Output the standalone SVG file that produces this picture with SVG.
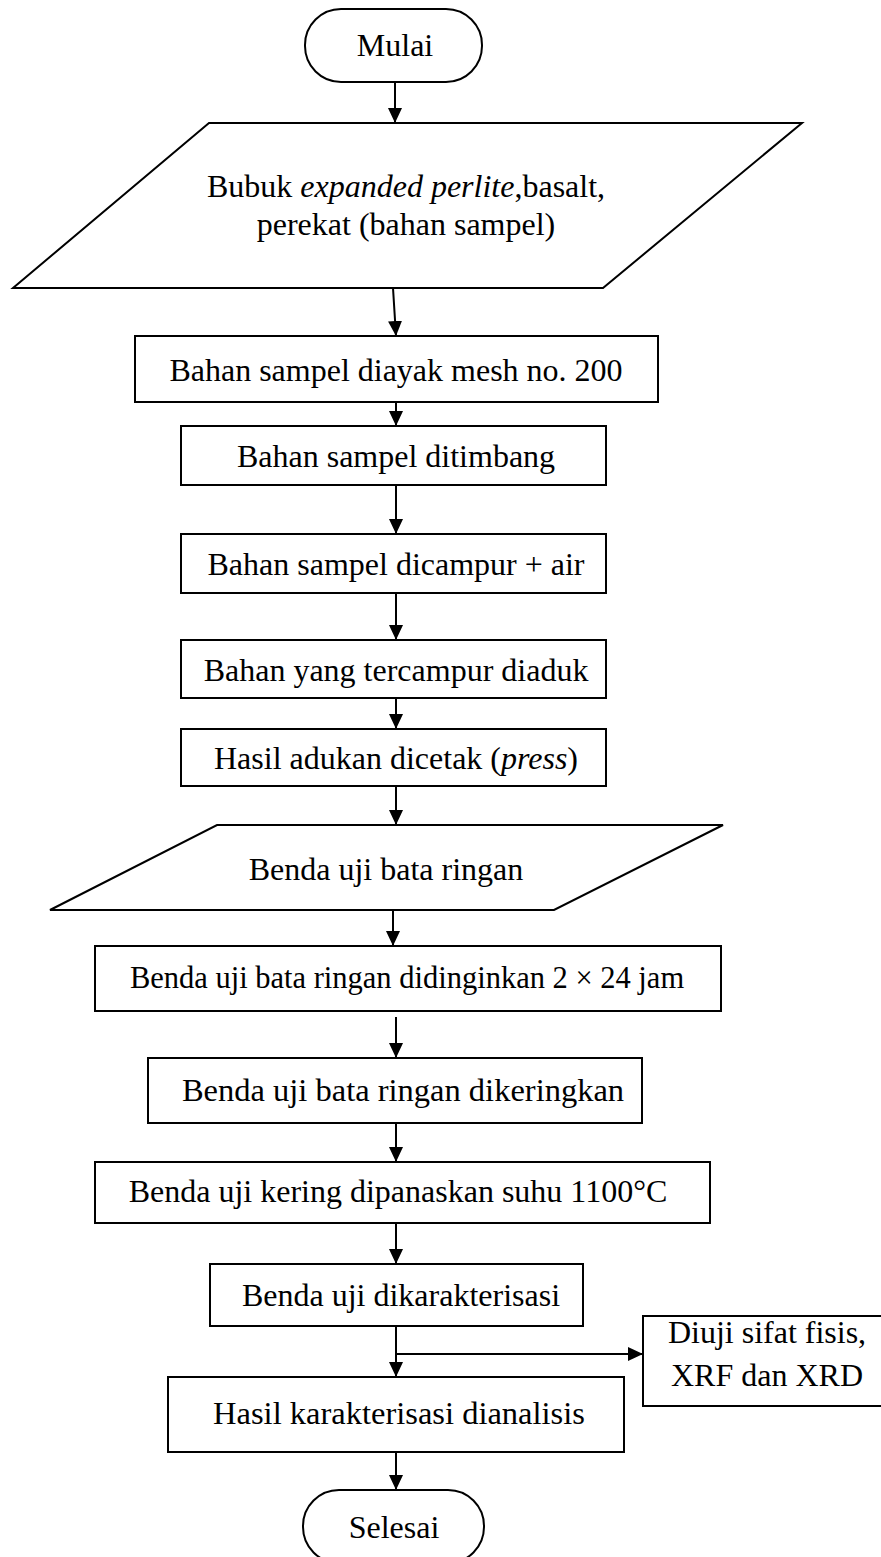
<svg xmlns="http://www.w3.org/2000/svg" width="881" height="1557" viewBox="0 0 881 1557">
<defs>
<style>
.s{fill:#fff;stroke:#000;stroke-width:2}
.t{font-family:"Liberation Serif","Times New Roman",serif;font-size:32px;fill:#000;text-anchor:middle}
.c{fill:none;stroke:#000;stroke-width:2}
</style>
<marker id="ah" markerWidth="16" markerHeight="16" refX="15" refY="7" orient="auto" markerUnits="userSpaceOnUse"><path d="M0,0 L15,7 L0,14 z" fill="#000"/></marker>
</defs>
<rect width="881" height="1557" fill="#fff"/>
<g id="connectors">
<line class="c" x1="395" y1="82" x2="395" y2="123" marker-end="url(#ah)"/>
<line class="c" x1="393" y1="288" x2="396" y2="336" marker-end="url(#ah)"/>
<line class="c" x1="396" y1="402" x2="396" y2="426" marker-end="url(#ah)"/>
<line class="c" x1="396" y1="485" x2="396" y2="534" marker-end="url(#ah)"/>
<line class="c" x1="396" y1="593" x2="396" y2="640" marker-end="url(#ah)"/>
<line class="c" x1="396" y1="698" x2="396" y2="729" marker-end="url(#ah)"/>
<line class="c" x1="396" y1="786" x2="396" y2="825" marker-end="url(#ah)"/>
<line class="c" x1="393" y1="911" x2="393" y2="946" marker-end="url(#ah)"/>
<line class="c" x1="396" y1="1017" x2="396" y2="1058" marker-end="url(#ah)"/>
<line class="c" x1="396" y1="1123" x2="396" y2="1162" marker-end="url(#ah)"/>
<line class="c" x1="396" y1="1223" x2="396" y2="1264" marker-end="url(#ah)"/>
<line class="c" x1="396" y1="1326" x2="396" y2="1377" marker-end="url(#ah)"/>
<line class="c" x1="396" y1="1354" x2="643" y2="1354" marker-end="url(#ah)"/>
<line class="c" x1="396" y1="1452" x2="396" y2="1490" marker-end="url(#ah)"/>
</g>
<g id="mulai">
<rect class="s" x="305" y="9" width="177" height="73" rx="36" ry="36"/>
<text class="t" x="395" y="56">Mulai</text>
</g>
<g id="input1">
<polygon class="s" points="209,123 802,123 603,288 13,288"/>
<text class="t" x="406" y="197">Bubuk <tspan font-style="italic">expanded perlite</tspan>,basalt,</text>
<text class="t" x="406" y="235">perekat (bahan sampel)</text>
</g>
<g id="box1">
<rect class="s" x="135" y="336" width="523" height="66"/>
<text class="t" x="396" y="381">Bahan sampel diayak mesh no. 200</text>
</g>
<g id="box2">
<rect class="s" x="181" y="426" width="425" height="59"/>
<text class="t" x="396" y="467">Bahan sampel ditimbang</text>
</g>
<g id="box3">
<rect class="s" x="181" y="534" width="425" height="59"/>
<text class="t" x="396" y="575">Bahan sampel dicampur + air</text>
</g>
<g id="box4">
<rect class="s" x="181" y="640" width="425" height="58"/>
<text class="t" x="396" y="681">Bahan yang tercampur diaduk</text>
</g>
<g id="box5">
<rect class="s" x="181" y="729" width="425" height="57"/>
<text class="t" x="396" y="769">Hasil adukan dicetak (<tspan font-style="italic">press</tspan>)</text>
</g>
<g id="input2">
<polygon class="s" points="217,825 723,825 554,910 50,910"/>
<text class="t" x="386" y="880">Benda uji bata ringan</text>
</g>
<g id="box6">
<rect class="s" x="95" y="946" width="626" height="65"/>
<text class="t" x="407" y="988" style="font-size:30.5px">Benda uji bata ringan didinginkan 2 × 24 jam</text>
</g>
<g id="box7">
<rect class="s" x="148" y="1058" width="494" height="65"/>
<text class="t" x="403" y="1101" style="font-size:32.5px">Benda uji bata ringan dikeringkan</text>
</g>
<g id="box8">
<rect class="s" x="95" y="1162" width="615" height="61"/>
<text class="t" x="398" y="1202">Benda uji kering dipanaskan suhu 1100°C</text>
</g>
<g id="box9">
<rect class="s" x="210" y="1264" width="373" height="62"/>
<text class="t" x="401" y="1306">Benda uji dikarakterisasi</text>
</g>
<g id="side">
<rect class="s" x="643" y="1316" width="250" height="90"/>
<text class="t" x="767" y="1343">Diuji sifat fisis,</text>
<text class="t" x="767" y="1386">XRF dan XRD</text>
</g>
<g id="box10">
<rect class="s" x="168" y="1377" width="456" height="75"/>
<text class="t" x="399" y="1424" style="font-size:32.5px">Hasil karakterisasi dianalisis</text>
</g>
<g id="selesai">
<rect class="s" x="303" y="1490" width="181" height="73" rx="36" ry="36"/>
<text class="t" x="394" y="1538">Selesai</text>
</g>
</svg>
